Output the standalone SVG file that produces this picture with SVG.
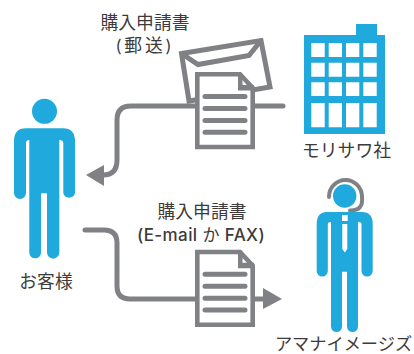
<svg xmlns="http://www.w3.org/2000/svg" width="414" height="354" viewBox="0 0 414 354">
<style>
.t{font-family:"Lato","Noto Sans CJK JP",sans-serif;font-size:17.800px;font-weight:400;fill:#3e3a39;text-anchor:middle}
.m{font-family:"Inter","Noto Sans CJK JP",sans-serif;font-weight:500}
.c{fill:none;stroke:#808184;stroke-width:5;stroke-linecap:round}
.h{fill:#808184}
.p{fill:#1fa9dc}
.w{fill:#fff}
.b{fill:#fff;stroke:#808184;stroke-width:4.600;stroke-linejoin:miter}
.l{stroke:#808184;stroke-width:5;stroke-linecap:round}
</style>
<defs>
<g id="doc">
<path class="b" d="M197.300 74.300H240L252.700 88V147H197.300Z"/>
<path class="h" d="M238 74H242.500V85H254V90.500H238Z"/>
<path class="l" d="M205 96.500H245M205 108.500H245M205 120.500H245M205 132.300H245"/>
</g>
</defs>
<g id="connectors">
<path class="c" d="M283 106H131Q117 106 117 120V160Q117 175 103 175"/>
<path class="h" d="M86 175L104 165V186Z"/>
<path class="c" d="M85 230H104Q117 230 117 243V286Q117 299 130 299H265"/>
<path class="h" d="M282 299L263 288V309Z"/>
</g>
<g id="node-mail">
<path fill="#fff" stroke="#808184" stroke-width="5" d="M181.500 53.500L261 40.500L270 87L189 101Z"/>
<path fill="none" stroke="#808184" stroke-width="5" d="M181.500 53.500L198 64.500L249 55.500L261 40.500"/>
<use href="#doc"/>
</g>
<g id="node-doc2">
<use href="#doc" y="177.700"/>
</g>
<g id="node-company">
<path class="p" d="M304 35H356V24H377V35H385V134H304Z"/>
<path class="w" d="M311.300 43H324.700V57H311.300ZM328.700 43H342V57H328.700ZM346 43H359.300V57H346ZM363.300 43H376.700V57H363.300ZM311.300 62.700H324.700V76.700H311.300ZM328.700 62.700H342V76.700H328.700ZM346 62.700H359.300V76.700H346ZM363.300 62.700H376.700V76.700H363.300ZM311.300 82.300H324.700V96H311.300ZM328.700 82.300H342V96H328.700ZM346 82.300H359.300V96H346ZM363.300 82.300H376.700V96H363.300ZM311.300 103H324.700V127.300H311.300ZM328.700 103H342V127.300H328.700ZM346 103H359.300V127.300H346ZM363.300 103H376.700V127.300H363.300Z"/>
<text class="t" x="346.500" y="157">モリサワ社</text>
</g>
<g id="node-customer">
<circle class="p" cx="44.500" cy="111.300" r="12.500"/>
<path class="p" d="M26 128.300H63Q75 128.300 75 141V193A6 6 0 0 1 63.300 193V143Q63.300 140 59.300 140V252.500A5.800 5.800 0 0 1 47 252.500V193.300H41V252.500A5.800 5.800 0 0 1 29.300 252.500V140Q26 140 26 143V193A6 6 0 0 1 14 193V141Q14 128.300 26 128.300Z"/>
<text class="t" x="46" y="288">お客様</text>
</g>
<g id="node-operator">
<path fill="none" stroke="#808184" stroke-width="4" stroke-linecap="round" d="M329 197A16.500 17 0 0 1 362 197Q363.500 211 350 210.500"/>
<circle class="p" cx="344.700" cy="196" r="11.700"/>
<path class="p" d="M327 212H362Q372.700 212 372.700 224V271A5.500 5.500 0 0 1 361.500 271V224Q361.500 222 358 222V326.500A5.500 5.500 0 0 1 347 326.500V271.700H342V326.500A5.500 5.500 0 0 1 331 326.500V222Q327.800 222 327.800 224V271A5.500 5.500 0 0 1 316.700 271V224Q316.700 212 327 212Z"/>
<path class="w" d="M342 215H347.700V221H342ZM342.300 224H347.300V249L344.800 252.500L342.300 249Z"/>
<text class="t" style="font-size:17.200px" x="343.500" y="350">アマナイメージズ</text>
</g>
<g id="labels">
<text class="t" x="145" y="29">購入申請書</text>
<text class="t" x="145" y="52" letter-spacing="3">(郵送)</text>
<text class="t" x="202" y="218">購入申請書</text>
<text class="t m" x="201" y="241" letter-spacing="0.400" style="font-size:17px">(E-mail <tspan style="font-weight:400">か</tspan> FAX)</text>
</g>
</svg>
